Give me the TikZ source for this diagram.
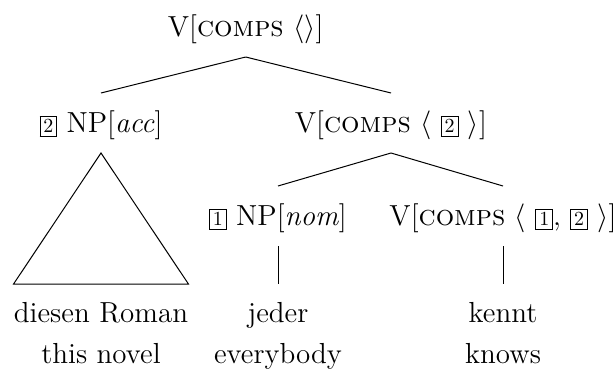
\documentclass[tikz,border=0pt]{standalone}
\usepackage{fontspec}
\newcommand{\tagbox}[1]{{\fboxsep=1.5pt\fboxrule=0.4pt\fbox{\fontsize{10}{10}\selectfont #1}}}
\begin{document}
\begin{tikzpicture}[x=0.5pt,y=-0.5pt,
  lab/.style={font=\fontsize{14.5}{17}\selectfont, inner sep=0pt, anchor=base,
              text height=10pt, text depth=0pt, outer ysep=10pt},
  leaf/.style={font=\fontsize{14.5}{17}\selectfont, inner sep=0pt, anchor=base,
              text height=10pt, text depth=0pt, outer ysep=9pt},
  gloss/.style={font=\fontsize{14.5}{17}\selectfont, inner sep=0pt, anchor=base},
  edge/.style={line width=0.5pt, line join=miter}]
\useasboundingbox (0,0) rectangle (616,369);
\node[lab] (root) at (245.7,37) {V[\textsc{comps} $\langle\rangle$]};
\node[lab] (acc) at (101,133) {\tagbox{2} NP[\textit{acc}]};
\node[lab] (v2) at (391,133) {V[\textsc{comps} $\langle$ \tagbox{2} $\rangle$]};
\node[lab] (nom) at (278,226) {\tagbox{1} NP[\textit{nom}]};
\node[lab] (v3) at (503,226) {V[\textsc{comps} $\langle$ \tagbox{1}, \tagbox{2} $\rangle$]};
\node[leaf] (diesen) at (101,322) {diesen Roman};
\node[leaf] (jeder) at (278,322) {jeder};
\node[leaf] (kennt) at (503,322) {kennt};
\node[gloss] (g1) at (101,363) {this novel};
\node[gloss] (g2) at (278,363) {everybody};
\node[gloss] (g3) at (503,363) {knows};
\draw[edge] (root.south) -- (acc.north);
\draw[edge] (root.south) -- (v2.north);
\draw[edge] (v2.south) -- (nom.north);
\draw[edge] (v2.south) -- (v3.north);
\draw[edge] (acc.south) -- (diesen.north west) -- (diesen.north east) -- cycle;
\draw[edge] (nom.south) -- (jeder.north);
\draw[edge] (v3.south) -- (kennt.north);
\end{tikzpicture}
\end{document}
